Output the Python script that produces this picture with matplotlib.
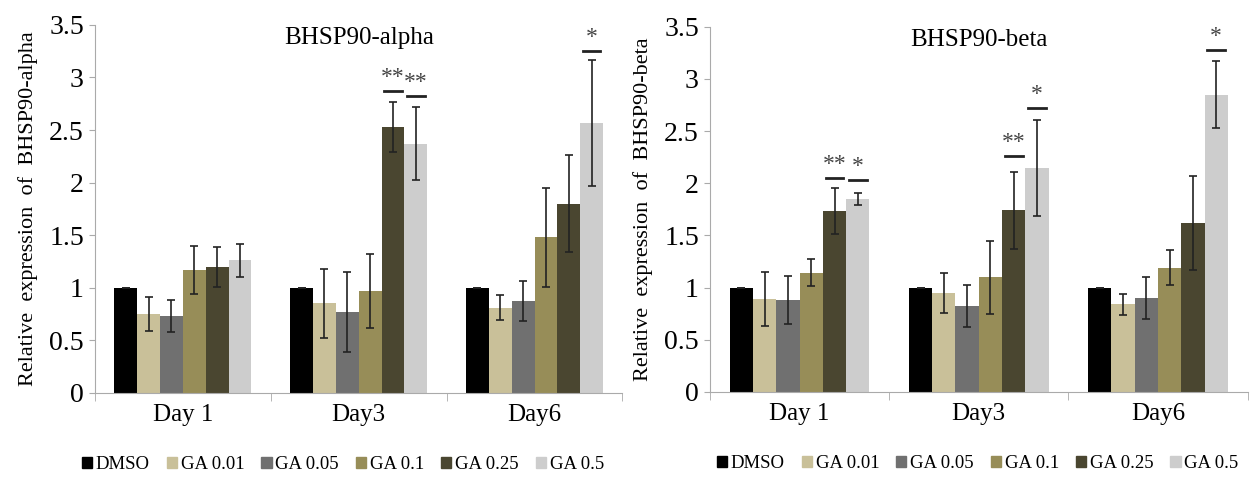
import numpy as np
import matplotlib
matplotlib.use('Agg')
import matplotlib.pyplot as plt
from matplotlib.patches import Patch

plt.rcParams['font.family'] = ['Liberation Serif', 'DejaVu Serif']

days = ['Day 1', 'Day3', 'Day6']
groups = ['DMSO', 'GA 0.01', 'GA 0.05', 'GA 0.1', 'GA 0.25', 'GA 0.5']
colors = ['#000000', '#c9c099', '#707070', '#978d58', '#4a4630', '#cdcdcd']

# BHSP90-alpha, rows = groups, cols = days
alpha_mean = [[1.00, 1.00, 1.00],
              [0.75, 0.85, 0.81],
              [0.73, 0.77, 0.87],
              [1.17, 0.97, 1.48],
              [1.20, 2.53, 1.80],
              [1.26, 2.37, 2.57]]
alpha_err = [[0.00, 0.00, 0.00],
             [0.16, 0.33, 0.12],
             [0.15, 0.38, 0.19],
             [0.23, 0.35, 0.47],
             [0.19, 0.24, 0.46],
             [0.16, 0.35, 0.60]]
# (group, day, line height, label)
alpha_sig = [(4, 1, 2.87, '**'), (5, 1, 2.82, '**'), (5, 2, 3.25, '*')]

# BHSP90-beta
beta_mean = [[1.00, 1.00, 1.00],
             [0.89, 0.95, 0.84],
             [0.88, 0.82, 0.90],
             [1.14, 1.10, 1.19],
             [1.73, 1.74, 1.62],
             [1.85, 2.15, 2.85]]
beta_err = [[0.00, 0.00, 0.00],
            [0.26, 0.19, 0.10],
            [0.23, 0.20, 0.20],
            [0.13, 0.35, 0.17],
            [0.22, 0.37, 0.45],
            [0.06, 0.46, 0.32]]
beta_sig = [(4, 0, 2.05, '**'), (5, 0, 2.03, '*'), (4, 1, 2.26, '**'),
            (5, 1, 2.72, '*'), (5, 2, 3.28, '*')]

fig = plt.figure(figsize=(12.5, 4.79), dpi=100)
ax1 = fig.add_axes([0.076, 0.180, 0.422, 0.768])
ax2 = fig.add_axes([0.568, 0.182, 0.430, 0.762])

width = 0.13
x = np.arange(len(days))


def draw(ax, mean, err, sig, title, ylabel):
    for i, g in enumerate(groups):
        pos = x + (i - 2.5) * width
        ax.bar(pos, mean[i], width, color=colors[i], label=g, zorder=2)
        ax.errorbar(pos, mean[i], yerr=err[i], fmt='none', ecolor='#222222',
                    elinewidth=1.2, capsize=3, capthick=1.2, zorder=3)
    for gi, di, h, lab in sig:
        p = x[di] + (gi - 2.5) * width
        ax.plot([p - width * 0.38, p + width * 0.38], [h, h], color='#222222', lw=2, zorder=3)
        ax.text(p, h + 0.03, lab, ha='center', va='bottom', fontsize=17, color='#444444')
    ax.set_xlim(-0.5, 2.5)
    ax.set_ylim(0, 3.5)
    ax.set_yticks(np.arange(0, 3.51, 0.5))
    ax.set_yticklabels(['0', '0.5', '1', '1.5', '2', '2.5', '3', '3.5'], fontsize=20)
    ax.set_xticks(x)
    ax.set_xticklabels(days, fontsize=18)
    ax.set_xticks([-0.5, 0.5, 1.5, 2.5], minor=True)
    ax.tick_params(axis='x', which='major', length=0, pad=8)
    ax.tick_params(axis='x', which='minor', length=6, color='#aaaaaa')
    ax.tick_params(axis='y', length=4, color='#aaaaaa', pad=4)
    for s in ['top', 'right']:
        ax.spines[s].set_visible(False)
    for s in ['left', 'bottom']:
        ax.spines[s].set_color('#aaaaaa')
    ax.text(0.5, 0.995, title, transform=ax.transAxes, ha='center', va='top', fontsize=18)
    ax.set_ylabel(ylabel, fontsize=16, labelpad=8)


draw(ax1, alpha_mean, alpha_err, alpha_sig, 'BHSP90-alpha',
     'Relative  expression  of  BHSP90-alpha')
draw(ax2, beta_mean, beta_err, beta_sig, 'BHSP90-beta',
     'Relative  expression  of  BHSP90-beta')

for ax, x0 in [(ax1, 0.47), (ax2, 0.498)]:
    handles = [Patch(color=c) for c in colors]
    ax.legend(handles, groups, loc='center', bbox_to_anchor=(x0, -0.196), ncol=6,
              frameon=False, fontsize=13.5, handlelength=0.55, handleheight=0.55,
              handletextpad=0.2, columnspacing=0.9, borderaxespad=0)

fig.savefig('out.png', dpi=100)
